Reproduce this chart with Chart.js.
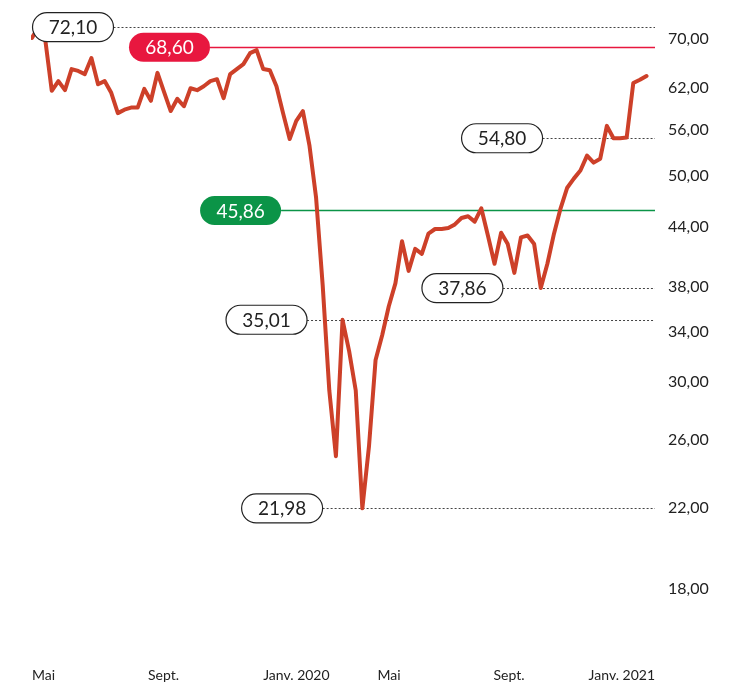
<!DOCTYPE html>
<html lang="fr">
<head>
<meta charset="utf-8">
<title>Cours</title>
<script src="https://cdn.jsdelivr.net/npm/chart.js@4.4.1/dist/chart.umd.min.js"></script>
<style>
  html, body { margin: 0; padding: 0; background: #fff; }
  #wrap { position: relative; width: 730px; height: 695px; }
</style>
</head>
<body>
<div id="wrap"><canvas id="coursChart"></canvas></div>
<script>
// Cours hebdomadaire (mai 2019 -> fév. 2021)
const cours = [
    70.2, 72.1, 70.0, 61.6, 63.1, 61.7, 65.0, 64.7, 64.2, 66.8,
    62.6, 63.1, 61.3, 58.3, 58.8, 59.1, 59.1, 61.9, 60.1, 64.4,
    61.4, 58.6, 60.4, 59.3, 62.0, 61.7, 62.3, 63.1, 63.4, 60.5,
    64.2, 65.0, 65.8, 67.6, 68.1, 65.0, 64.8, 62.3, 58.3, 54.7,
    57.2, 58.6, 53.8, 47.3, 38.1, 29.4, 25.0, 35.0, 32.4, 29.4,
    21.98, 25.6, 31.7, 33.7, 36.2, 38.3, 42.5, 39.5, 41.7, 41.2,
    43.3, 43.8, 43.8, 43.9, 44.3, 45.0, 45.2, 44.6, 46.1, 43.1,
    40.2, 43.4, 42.2, 39.3, 42.9, 43.1, 42.2, 37.86, 40.2, 43.3,
    46.1, 48.5, 49.6, 50.6, 52.5, 51.6, 52.1, 56.5, 54.8, 54.8,
    54.9, 62.8, 63.3, 63.9
];
// une valeur par semaine, jours depuis le 1er mai 2019
const jours = cours.map((_, i) => i * 7);

// axe du temps
const moisJours = [0, 123, 245, 366, 489, 611];
const moisLabels = ['Mai', 'Sept.', 'Janv. 2020', 'Mai', 'Sept.', 'Janv. 2021'];

// axe des cours
const yTicks = [18, 22, 26, 30, 34, 38, 44, 50, 56, 62, 70];

// niveaux remarquables
const niveaux = [72.10, 68.60, 54.80, 45.86, 37.86, 35.01, 21.98];
const niveauxType = ['max', 'rouge', 'point', 'vert', 'point', 'point', 'min'];
const niveauxJour = [43.5, 145.7, 498, 221, 456, 248.5, 265];

const FONT = 'Lato, "Noto Sans", sans-serif';
const couleurs = { rouge: '#e8173f', vert: '#0b9447', ligne: '#cd4029' };

function formatFr(v) {
    return v.toFixed(2).replace('.', ',');
}

function pill(ctx, cx, cy, w, h, fill, stroke) {
    const r = h / 2;
    ctx.beginPath();
    ctx.moveTo(cx - w / 2 + r, cy - r);
    ctx.lineTo(cx + w / 2 - r, cy - r);
    ctx.arc(cx + w / 2 - r, cy, r, -Math.PI / 2, Math.PI / 2);
    ctx.lineTo(cx - w / 2 + r, cy + r);
    ctx.arc(cx - w / 2 + r, cy, r, Math.PI / 2, Math.PI * 1.5);
    ctx.closePath();
    ctx.fillStyle = fill;
    ctx.fill();
    if (stroke) {
        ctx.lineWidth = 1.2;
        ctx.strokeStyle = stroke;
        ctx.stroke();
    }
}

const PILL_W = 81, PILL_H = 29;

// Lignes de niveau (sous la courbe) et étiquettes (au-dessus)
const niveauxPlugin = {
    id: 'niveaux',
    beforeDatasetsDraw(chart) {
        const { ctx, chartArea, scales } = chart;
        ctx.save();
        niveaux.forEach((v, i) => {
            const y = Math.round(scales.y.getPixelForValue(v)) + 0.5;
            const x0 = scales.x.getPixelForValue(niveauxJour[i]) + PILL_W / 2;
            const t = niveauxType[i];
            ctx.beginPath();
            if (t === 'rouge' || t === 'vert') {
                ctx.setLineDash([]);
                ctx.lineWidth = 1.5;
                ctx.strokeStyle = couleurs[t];
            } else {
                ctx.setLineDash([2, 2]);
                ctx.lineWidth = 1;
                ctx.strokeStyle = '#444';
            }
            ctx.moveTo(x0, y);
            ctx.lineTo(chartArea.right, y);
            ctx.stroke();
        });
        ctx.restore();
    },
    afterDatasetsDraw(chart) {
        const { ctx, scales } = chart;
        ctx.save();
        niveaux.forEach((v, i) => {
            const y = scales.y.getPixelForValue(v);
            const x = scales.x.getPixelForValue(niveauxJour[i]);
            const t = niveauxType[i];
            if (t === 'rouge' || t === 'vert') {
                pill(ctx, x, y, PILL_W, PILL_H, couleurs[t], null);
                ctx.fillStyle = '#fff';
            } else {
                pill(ctx, x, y, PILL_W, PILL_H, '#fff', '#222');
                ctx.fillStyle = '#222';
            }
            ctx.font = '19px ' + FONT;
            ctx.textAlign = 'center';
            ctx.textBaseline = 'middle';
            ctx.fillText(formatFr(v), x, y + 1);
        });
        ctx.restore();
    },
    // la dernière étiquette de mois est calée sur le bord droit
    afterLayout(chart) {
        const xs = chart.scales.x;
        if (!xs || !xs.getLabelItems) return;
        const items = xs.getLabelItems(chart.chartArea);
        const last = items && items[items.length - 1];
        if (last && last.options && last.options.translation) {
            last.options.textAlign = 'right';
            last.options.translation[0] = chart.chartArea.right;
        }
    }
};

const ctx = document.getElementById('coursChart').getContext('2d');
new Chart(ctx, {
    type: 'line',
    data: {
        datasets: [{
            data: cours.map((v, i) => ({ x: jours[i], y: v })),
            borderColor: couleurs.ligne,
            borderWidth: 4,
            borderJoinStyle: 'round',
            borderCapStyle: 'round',
            pointRadius: 0,
            tension: 0,
            fill: false
        }]
    },
    options: {
        responsive: true,
        maintainAspectRatio: false,
        animation: false,
        layout: { padding: { top: 9, left: 31, right: 0, bottom: 0 } },
        plugins: {
            legend: { display: false },
            tooltip: { enabled: false }
        },
        scales: {
            x: {
                type: 'linear',
                min: -1,
                max: 660,
                grid: { display: false, drawTicks: false },
                border: { display: false },
                afterBuildTicks: (scale) => {
                    scale.ticks = moisJours.map(v => ({ value: v }));
                },
                afterFit: (scale) => { scale.height = 58; },
                ticks: {
                    autoSkip: false,
                    maxRotation: 0,
                    align: 'start',
                    padding: 30,
                    color: '#222',
                    font: { family: FONT, size: 14 },
                    callback: (value, index) => moisLabels[index]
                }
            },
            y: {
                type: 'logarithmic',
                position: 'right',
                min: 16,
                max: 72.9,
                grid: { display: false, drawTicks: false },
                border: { display: false },
                afterBuildTicks: (scale) => {
                    scale.ticks = yTicks.map(v => ({ value: v }));
                },
                afterFit: (scale) => { scale.width = 75; },
                ticks: {
                    padding: 13,
                    color: '#222',
                    font: { family: FONT, size: 16 },
                    callback: (value) => formatFr(value)
                }
            }
        }
    },
    plugins: [niveauxPlugin]
});
</script>
</body>
</html>
